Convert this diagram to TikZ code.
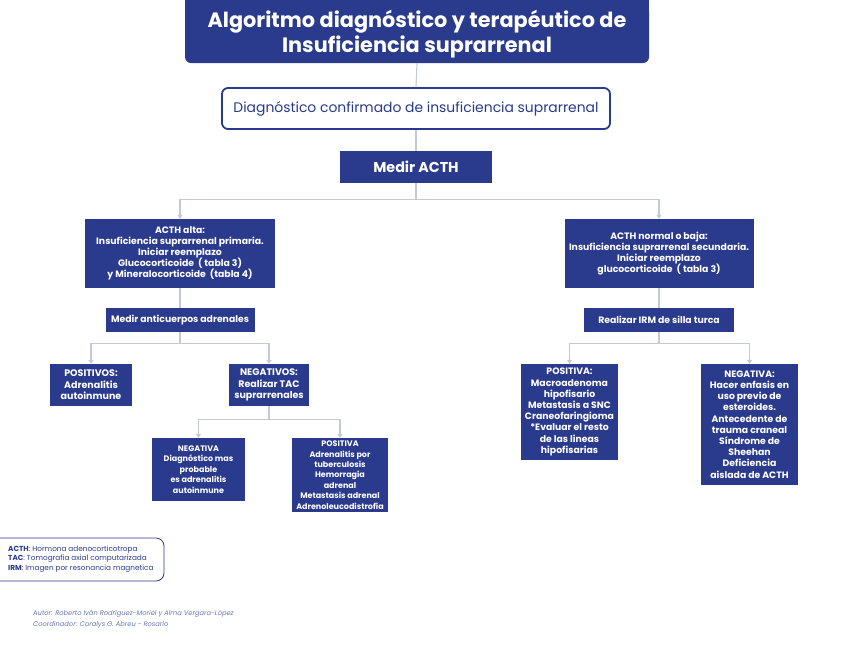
\documentclass[tikz,border=0pt]{standalone}
\usepackage{fontspec}
\setmainfont{Poppins}
\usepackage{tikz}
\usetikzlibrary{arrows.meta, positioning, calc}
\definecolor{azul}{HTML}{2A3A8C}
\definecolor{gris}{HTML}{C5C9D6}
\definecolor{autor}{HTML}{6B78B3}

\begin{document}
\begin{tikzpicture}[x=1pt, y=-1pt,
  cell/.style={fill=azul, text=white, align=center, inner sep=1pt, font=\bfseries\fontsize{9.3}{11}\selectfont},
  small/.style={cell, font=\bfseries\fontsize{8}{10.4}\selectfont},
  link/.style={draw=gris, line width=1.1pt},
  flecha/.style={link, -{Triangle[width=5pt,length=4pt]}},
]
\useasboundingbox (0,0) rectangle (848,659);

% cabecera
\fill[azul] (185,-5) rectangle (649,20);
\node[cell, rounded corners=6, minimum width=464, minimum height=58, font=\bfseries\fontsize{20.8}{25}\selectfont] (title) at (417,34)
  {Algoritmo diagnóstico y terapéutico de\\Insuficiencia suprarrenal};
\node[draw=azul, line width=1.8pt, rounded corners=6, fill=white, text=azul, minimum width=388, minimum height=41, font=\fontsize{13.9}{15}\selectfont] (diag) at (416,108.5)
  {Diagnóstico confirmado de insuficiencia suprarrenal};
\node[cell, minimum width=152, minimum height=32, font=\bfseries\fontsize{14.3}{16}\selectfont] (acth) at (416,167) {Medir ACTH};

% rama primaria
\node[cell, minimum width=190, minimum height=69] (alta) at (180,253.5)
  {ACTH alta:\\Insuficiencia suprarrenal primaria.\\Iniciar reemplazo\\Glucocorticoide \ ( tabla 3)\\y Mineralocorticoide \ (tabla 4)};
\node[cell, minimum width=149, minimum height=24] (anti) at (180,320) {Medir anticuerpos adrenales};
\node[cell, minimum width=82, minimum height=42, font=\bfseries\fontsize{9.5}{11.5}\selectfont] (pos1) at (91,385)
  {POSITIVOS:\\Adrenalitis\\autoinmune};
\node[cell, minimum width=80, minimum height=42, font=\bfseries\fontsize{9.5}{11.5}\selectfont] (neg1) at (269,385)
  {NEGATIVOS:\\Realizar TAC\\suprarrenales};
\node[small, minimum width=93, minimum height=63] (neg2) at (198.5,469.5)
  {NEGATIVA\\Diagnóstico mas\\probable\\es adrenalitis\\autoinmune};
\node[small, minimum width=96, minimum height=74] (pos2) at (340,475)
  {POSITIVA\\Adrenalitis por\\tuberculosis\\Hemorragia\\adrenal\\Metastasis adrenal\\Adrenoleucodistrofia};

% rama secundaria
\node[cell, minimum width=189, minimum height=69] (baja) at (659,253.5)
  {ACTH normal o baja:\\Insuficiencia suprarrenal secundaria.\\Iniciar reemplazo\\glucocorticoide \ ( tabla 3)};
\node[cell, minimum width=150, minimum height=24] (irm) at (659,320) {Realizar IRM de silla turca};
\node[cell, minimum width=97, minimum height=96, font=\bfseries\fontsize{9.3}{11.2}\selectfont] (pos3) at (569.5,412)
  {POSITIVA:\\Macroadenoma\\hipofisario\\Metastasis a SNC\\Craneofaringioma\\*Evaluar el resto\\de las lineas\\hipofisarias};
\node[cell, minimum width=97, minimum height=121, font=\bfseries\fontsize{9.3}{11.2}\selectfont] (neg3) at (749.5,424.5)
  {NEGATIVA:\\Hacer enfasis en\\uso previo de\\esteroides.\\Antecedente de\\trauma craneal\\Síndrome de\\Sheehan\\Deficiencia\\aislada de ACTH};

% conectores
\draw[link] (title.south) -- (diag.north);
\draw[link] (diag.south) -- (acth.north);
\draw[flecha] (acth.south) -- ++(0,16) -| (alta.north);
\draw[flecha] (acth.south) -- ++(0,16) -| (baja.north);
\draw[link] (alta.south) -- (anti.north);
\draw[link] (baja.south) -- (irm.north);
\draw[flecha] (anti.south) -- ++(0,11) -| (pos1.north);
\draw[flecha] (anti.south) -- ++(0,11) -| (neg1.north);
\draw[flecha] (neg1.south) -- ++(0,13) -| (neg2.north);
\draw[flecha] (neg1.south) -- ++(0,13) -| (pos2.north);
\draw[flecha] (irm.south) -- ++(0,11) -| (pos3.north);
\draw[flecha] (irm.south) -- ++(0,11) -| (neg3.north);

% leyenda y autores
\draw[azul, line width=0.8pt, rounded corners=8] (-10,538) rectangle (164,581);
\node[anchor=west, align=left, text=azul, inner sep=0pt, font=\fontsize{7.3}{9.5}\selectfont] (leyenda) at (8,559)
  {\textbf{ACTH}: Hormona adenocorticotropa\\\textbf{TAC}: Tomografia axial computarizada\\\textbf{IRM}: Imagen por resonancia magnetica};
\node[anchor=west, align=left, text=autor, inner sep=0pt, font=\itshape\fontsize{6.7}{11.5}\selectfont] (autores) at (33,619)
  {Autor: Roberto Iván Rodríguez-Moriel y Alma Vergara-López\\Coordinador: Coralys G. Abreu - Rosario};
\end{tikzpicture}
\end{document}
